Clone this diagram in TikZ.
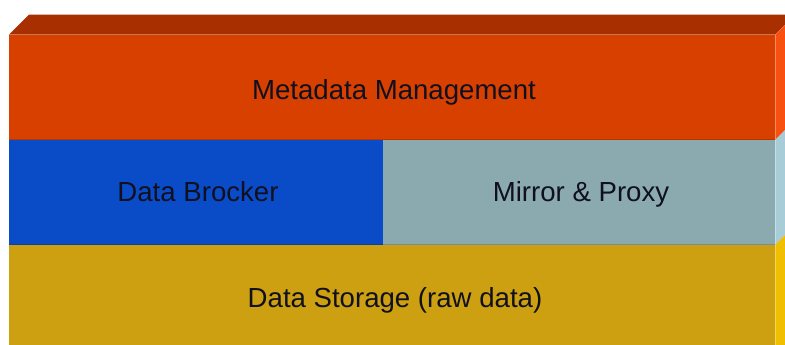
\documentclass[tikz,border=0pt]{standalone}
\usepackage{fontspec}
\setmainfont{Liberation Sans}
\definecolor{metaFront}{HTML}{D84000}
\definecolor{metaTop}{HTML}{A83000}
\definecolor{metaSide}{HTML}{F85010}
\definecolor{brokerFront}{HTML}{0A4CC8}
\definecolor{mirrorFront}{HTML}{8AAAB0}
\definecolor{mirrorSide}{HTML}{A8CCD8}
\definecolor{storeFront}{HTML}{CCA010}
\definecolor{storeSide}{HTML}{F0C000}
\definecolor{labelInk}{HTML}{101020}
\tikzset{
  layer/.style={draw=none, inner sep=0pt, anchor=south west},
  layerlabel/.style={inner sep=0pt, anchor=center, text height=0.72em, text depth=0.22em,
    font=\fontsize{27.6}{32}\selectfont, text=labelInk},
}
\begin{document}
\begin{tikzpicture}[x=1pt,y=1pt]
  \useasboundingbox (0,0) rectangle (785,345);
  \fill[white] (0,0) rectangle (785,345);
  \begin{scope}
    \clip (0,0) rectangle (785,345);
    % front faces of the three layers
    \node[layer, fill=metaFront, minimum width=766pt, minimum height=105pt] (meta) at (9,205) {};
    \node[layer, fill=brokerFront, minimum width=374pt, minimum height=105pt] (broker) at (9,100) {};
    \node[layer, fill=mirrorFront, minimum width=392pt, minimum height=105pt] (mirror) at (383,100) {};
    \node[layer, fill=storeFront, minimum width=766pt, minimum height=110pt] (store) at (9,-10) {};
    % top face
    \fill[metaTop] (meta.north west) -- ++(20,20) -- ++(766,0) -- (meta.north east) -- cycle;
    % right side faces
    \fill[metaSide] (meta.north east) -- ++(20,20) -- ++(0,-105) -- (meta.south east) -- cycle;
    \fill[mirrorSide] (mirror.north east) -- ++(20,20) -- ++(0,-105) -- (mirror.south east) -- cycle;
    \fill[storeSide] (store.north east) -- ++(20,20) -- ++(0,-110) -- (store.south east) -- cycle;
    % faint seams between layers
    \draw[black, opacity=0.15, line width=1pt] (meta.south west) -- (meta.south east);
    \draw[black, opacity=0.15, line width=1pt] (broker.south west) -- (mirror.south east);
  \end{scope}
  % labels
  \node[layerlabel] (metaLabel) at (394,248) {Metadata Management};
  \node[layerlabel] (brokerLabel) at (198,146) {Data Brocker};
  \node[layerlabel] (mirrorLabel) at (581,146) {Mirror \& Proxy};
  \node[layerlabel] (storeLabel) at (395,40) {Data Storage (raw data)};
\end{tikzpicture}
\end{document}
